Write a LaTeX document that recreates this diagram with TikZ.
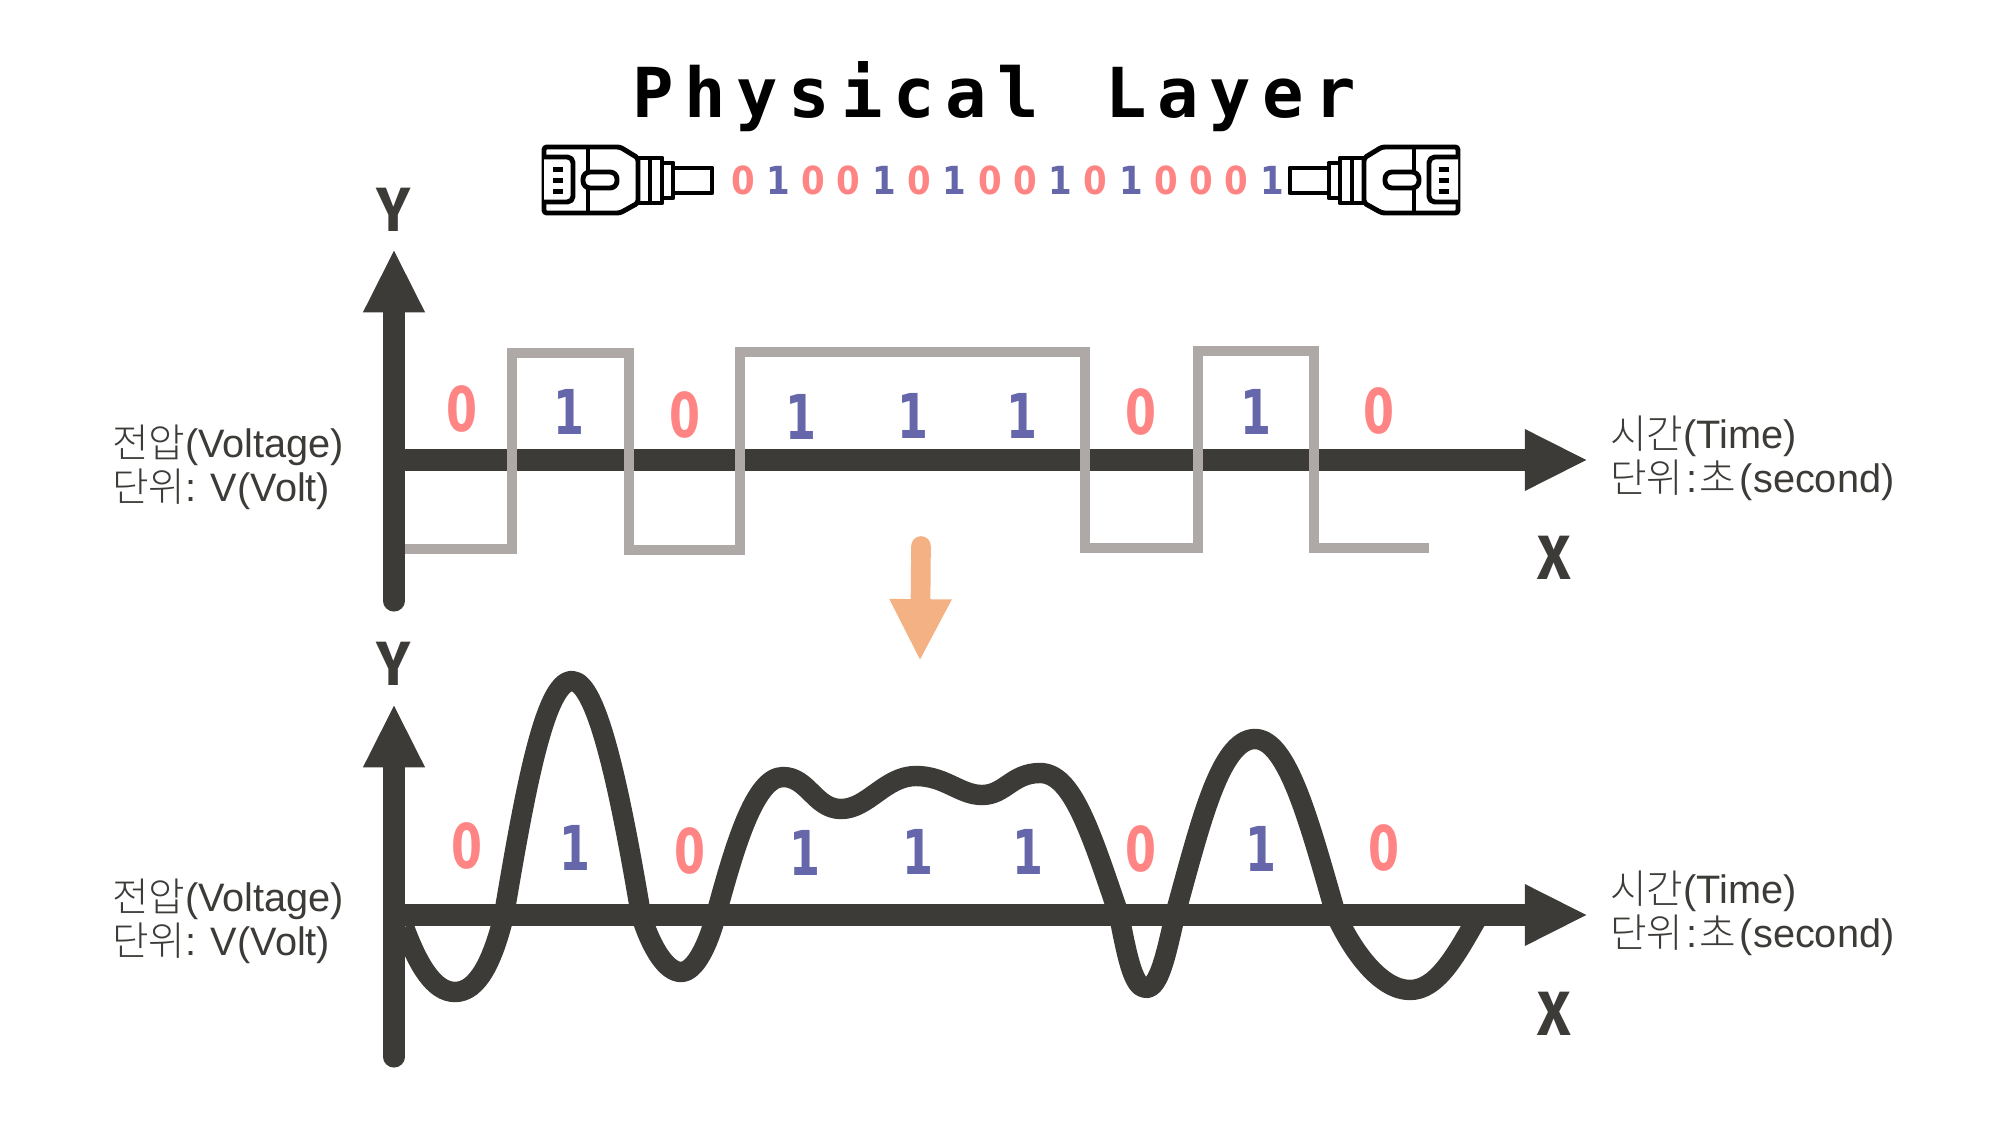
\documentclass[tikz,border=0pt]{standalone}
\usepackage{fontspec}
\usetikzlibrary{arrows.meta}
\setmainfont{Liberation Sans}
\newfontfamily\krfont[UprightFont=* Light]{Noto Sans CJK KR}
\newfontfamily\titlefont[LetterSpace=15.6]{DejaVu Sans Mono}
\newfontfamily\bitfont[FakeStretch=0.72]{DejaVu Sans}
\newfontfamily\streamfont[FakeStretch=0.88]{DejaVu Sans}
\newfontfamily\axisfont[FakeStretch=0.92]{Fira Sans}
\definecolor{axisgray}{HTML}{3D3B38}
\definecolor{wavegray}{HTML}{AEA9A7}
\definecolor{zeropink}{HTML}{FF8585}
\definecolor{onepurple}{HTML}{6667AB}
\definecolor{arroworange}{HTML}{F4B183}

\begin{document}
\begin{tikzpicture}[
      x=0.5mm, y=-0.5mm,
      axis/.style={draw=axisgray, line width=30pt, -{Triangle[length=90pt, width=81pt]}},
      squarewave/.style={draw=wavegray, line width=14pt},
      analogwave/.style={draw=axisgray, line width=29pt, line join=round},
      plugline/.style={draw=black, line width=7pt, line join=round, fill=white},
      axislabel/.style={font=\axisfont\bfseries\fontsize{89}{89}\selectfont, text=axisgray},
      unitlabel/.style={font=\fontsize{56.5}{63}\selectfont, text=axisgray, align=left, anchor=west, inner sep=0pt},
      signalbit/.style={font=\bitfont\bfseries\fontsize{88}{88}\selectfont, inner sep=0pt},
      streambit/.style={font=\streamfont\bfseries\fontsize{55}{55}\selectfont, inner sep=0pt},
      rjplug/.pic={
        \draw[plugline] (129,-12) rectangle (168,13);
        \draw[plugline] (118,-17) rectangle (129,18);
        \draw[plugline] (94,-22) rectangle (118,23);
        \draw[plugline] (106,-22) -- (106,23);
        \draw[plugline, rounded corners=4pt] (0,-33) -- (76,-33) -- (94,-22) -- (94,23) -- (76,33) -- (0,33) -- cycle;
        \draw[plugline, rounded corners=8pt] (0,-23) -- (29,-23) -- (29,22) -- (0,22);
        \draw[plugline] (44,-33) -- (44,33);
        \draw[plugline, fill=white, rounded corners=10pt] (39,-8) rectangle (73,8);
        \fill[black] (9,-13) rectangle (19,-8);
        \fill[black] (9,-2) rectangle (19,3);
        \fill[black] (9,9) rectangle (19,14);
      }
    ]
    \useasboundingbox (0,0) rectangle (2000,1125);

    % Title and bit stream between the two plugs
    \node[font=\titlefont\bfseries\fontsize{98}{98}\selectfont, inner sep=0pt] (title) at (994,97) {Physical\hspace{20pt} Layer};
    \pic at (544,180) {rjplug};
    \pic[xscale=-1] at (1458,180) {rjplug};
    \foreach \bit [count=\i from 0] in {0,1,0,0,1,0,1,0,0,1,0,1,0,0,0,1} {
      \ifnum\bit=0 \def\bitcolor{zeropink}\else \def\bitcolor{onepurple}\fi
      \node[streambit, text=\bitcolor] (stream\i) at ({743+35.27*\i},180) {\bit};
    }

    % Upper plot, digital signal
    \coordinate (yfoot) at (394,601);
    \coordinate (ytip) at (394,249);
    \coordinate (xfoot) at (394,460);
    \coordinate (xtip) at (1588,460);
    \draw[axis] (xfoot) -- (xtip);
    \draw[squarewave] (394,549) -- (512,549) -- (512,353) -- (629,353) -- (629,550) -- (740,550) -- (740,352) -- (1085,352) -- (1085,548) -- (1198,548) -- (1198,351) -- (1314,351) -- (1314,548) -- (1429,548);
    \draw[axis, line cap=round] (yfoot) -- (ytip);
    \node[axislabel] (ylabel) at (394,210) {Y};
    \node[axislabel] (xlabel) at (1554,558) {X};
    \node[unitlabel] (voltage) at (112,467) {{\krfont 전압}(Voltage)\\{\krfont 단위}: V(Volt)};
    \node[unitlabel] (timeunit) at (1610,458) {{\krfont 시간}(Time)\\{\krfont 단위}\hspace{4pt}:\hspace{4pt}{\krfont 초}\hspace{5pt}(second)};
    \foreach \bit/\px/\py [count=\i] in {0/462/409,1/569/412,0/685/415,1/801/417,1/913/416,1/1022/416,0/1141/412,1/1256/412,0/1379/411} {
      \ifnum\bit=0 \def\bitcolor{zeropink}\else \def\bitcolor{onepurple}\fi
      \node[signalbit, text=\bitcolor] (upper\i) at (\px,\py) {\bit};
    }

    % Arrow between the plots
    \coordinate (flowstart) at (921,546);
    \coordinate (flowend) at (920,661);
    \draw[draw=arroworange, line width=28pt, line cap=round, -{Triangle[length=88pt, width=82pt]}] (flowstart) -- (flowend);

    % Lower plot, analog signal
    \coordinate (yfootb) at (394,1057);
    \coordinate (ytipb) at (394,704);
    \coordinate (xfootb) at (394,915);
    \coordinate (xtipb) at (1588,915);
    \draw[axis] (xfootb) -- (xtipb);
    \draw[axis, line cap=round] (yfootb) -- (ytipb);
    \draw[analogwave] (404,927) .. controls (418,965) and (434,992) .. (455,992)
      .. controls (478,992) and (493,960) .. (504,915)
      .. controls (525,790) and (545,681) .. (572,681)
      .. controls (597,681) and (620,790) .. (641,915)
      .. controls (652,950) and (667,972) .. (681,972)
      .. controls (695,972) and (708,945) .. (716,915)
      .. controls (735,845) and (755,777) .. (783,777)
      .. controls (808,777) and (815,809) .. (841,809)
      .. controls (868,809) and (885,776) .. (916,776)
      .. controls (945,776) and (960,795) .. (982,795)
      .. controls (1005,795) and (1012,773) .. (1040,773)
      .. controls (1072,773) and (1090,830) .. (1119,915)
      .. controls (1127,955) and (1133,988) .. (1146,988)
      .. controls (1159,988) and (1166,955) .. (1175,915)
      .. controls (1200,825) and (1220,739) .. (1255,739)
      .. controls (1288,739) and (1310,825) .. (1336,915)
      .. controls (1352,950) and (1380,990) .. (1410,990)
      .. controls (1437,990) and (1456,955) .. (1476,920);
    \node[axislabel] (ylabelb) at (394,664) {Y};
    \node[axislabel] (xlabelb) at (1554,1014) {X};
    \node[unitlabel] (voltageb) at (112,921) {{\krfont 전압}(Voltage)\\{\krfont 단위}: V(Volt)};
    \node[unitlabel] (timeunitb) at (1610,913) {{\krfont 시간}(Time)\\{\krfont 단위}\hspace{4pt}:\hspace{4pt}{\krfont 초}\hspace{5pt}(second)};
    \foreach \bit/\px/\py [count=\i] in {0/467/846,1/575/848,0/690/851,1/805/853,1/918/852,1/1028/852,0/1141/849,1/1261/849,0/1384/848} {
      \ifnum\bit=0 \def\bitcolor{zeropink}\else \def\bitcolor{onepurple}\fi
      \node[signalbit, text=\bitcolor] (lower\i) at (\px,\py) {\bit};
    }

  \end{tikzpicture}
\end{document}
